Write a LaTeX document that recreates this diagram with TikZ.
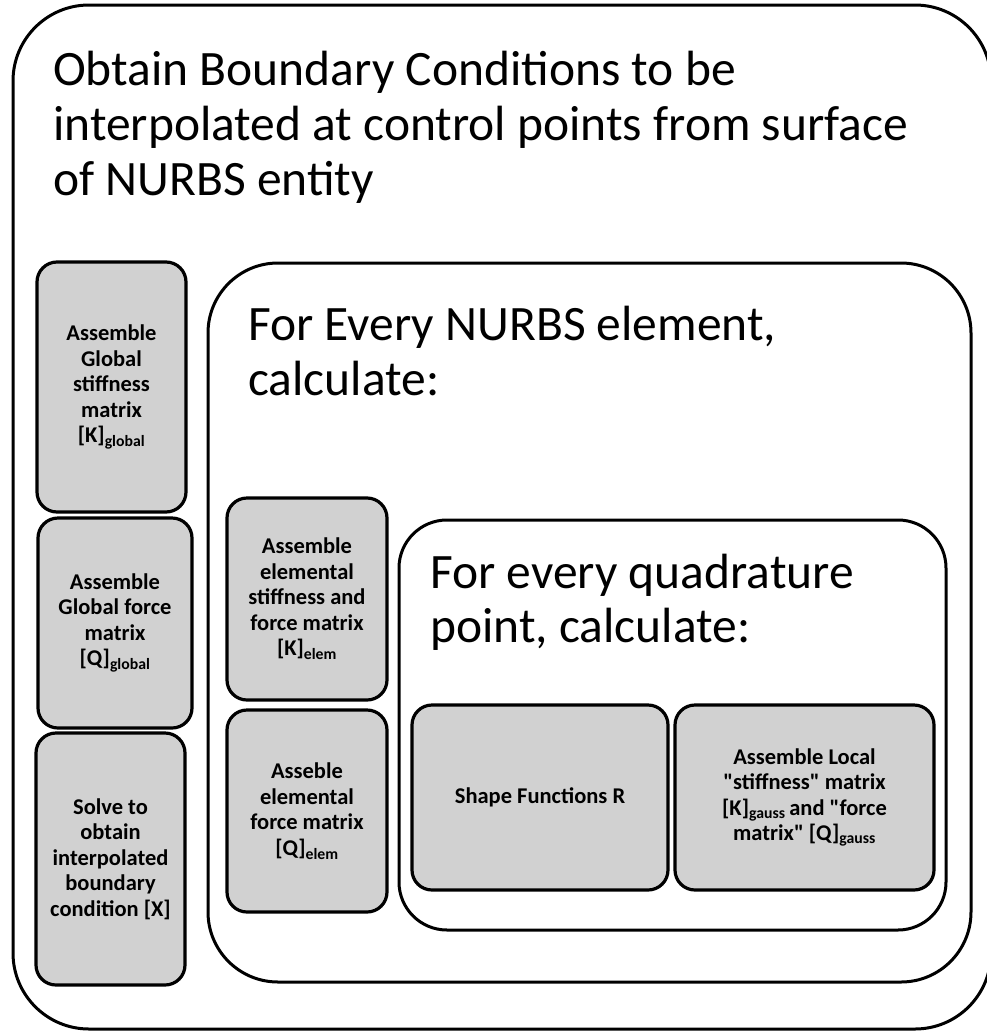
\documentclass[tikz,border=0pt]{standalone}
\usepackage{fontspec}
\setmainfont{Carlito}[Ligatures=TeXOff]
\definecolor{boxgray}{HTML}{D1D1D1}
\begin{document}
\begin{tikzpicture}[x=1pt,y=-1pt,
  frame/.style={draw=black, line width=3pt, rounded corners=#1, inner sep=0pt},
  cell/.style={draw=black, fill=boxgray, line width=3.2pt, rounded corners=20pt,
    align=center, font=\fontsize{22.5}{25.5}\selectfont\bfseries, inner sep=0pt},
  head/.style={anchor=base west, align=left, inner sep=0pt,
    font=\fontsize{49.5}{55}\selectfont}]
\useasboundingbox (0,0) rectangle (987,1031);
% containers
\node[frame=76pt, minimum width=978pt, minimum height=1024pt] (outer) at (502,517) {};
\node[frame=70pt, minimum width=763pt, minimum height=719pt] (elem) at (589.5,622.5) {};
\node[frame=48pt, minimum width=547pt, minimum height=410pt] (quad) at (672.5,725) {};
% headings (anchored at the baseline of the last line)
\node[head] (title) at (53,195)
  {Obtain Boundary Conditions to be\\interpolated at control points from surface\\of NURBS entity};
\node[head] (elemtitle) at (248,395)
  {For Every NURBS element,\\calculate:};
\node[head, font=\fontsize{49.5}{54}\selectfont] (quadtitle) at (430,642)
  {For every quadrature\\point, calculate:};
% left column
\node[cell, minimum width=149pt, minimum height=250pt] (kglob) at (111.5,387)
  {Assemble\\Global\\stiffness\\matrix\\{}[K]\textsubscript{global}};
\node[cell, minimum width=154pt, minimum height=210pt] (qglob) at (115,623)
  {Assemble\\Global force\\matrix\\{}[Q]\textsubscript{global}};
\node[cell, minimum width=149pt, minimum height=252pt] (solve) at (110.5,859)
  {Solve to\\obtain\\interpolated\\boundary\\condition [X]};
% element column
\node[cell, minimum width=160pt, minimum height=202pt] (kelem) at (307,599)
  {Assemble\\elemental\\stiffness and\\force matrix\\{}[K]\textsubscript{elem}};
\node[cell, minimum width=160pt, minimum height=202pt] (qelem) at (307,811)
  {Asseble\\elemental\\force matrix\\{}[Q]\textsubscript{elem}};
% quadrature row
\node[cell, minimum width=256pt, minimum height=185pt] (shape) at (540,797.5)
  {Shape Functions R};
\node[cell, minimum width=259pt, minimum height=185pt] (gauss) at (804.5,797.5)
  {Assemble Local\\"stiffness" matrix\\{}[K]\textsubscript{gauss}\,and "force\\matrix" [Q]\textsubscript{gauss}};
\end{tikzpicture}
\end{document}
